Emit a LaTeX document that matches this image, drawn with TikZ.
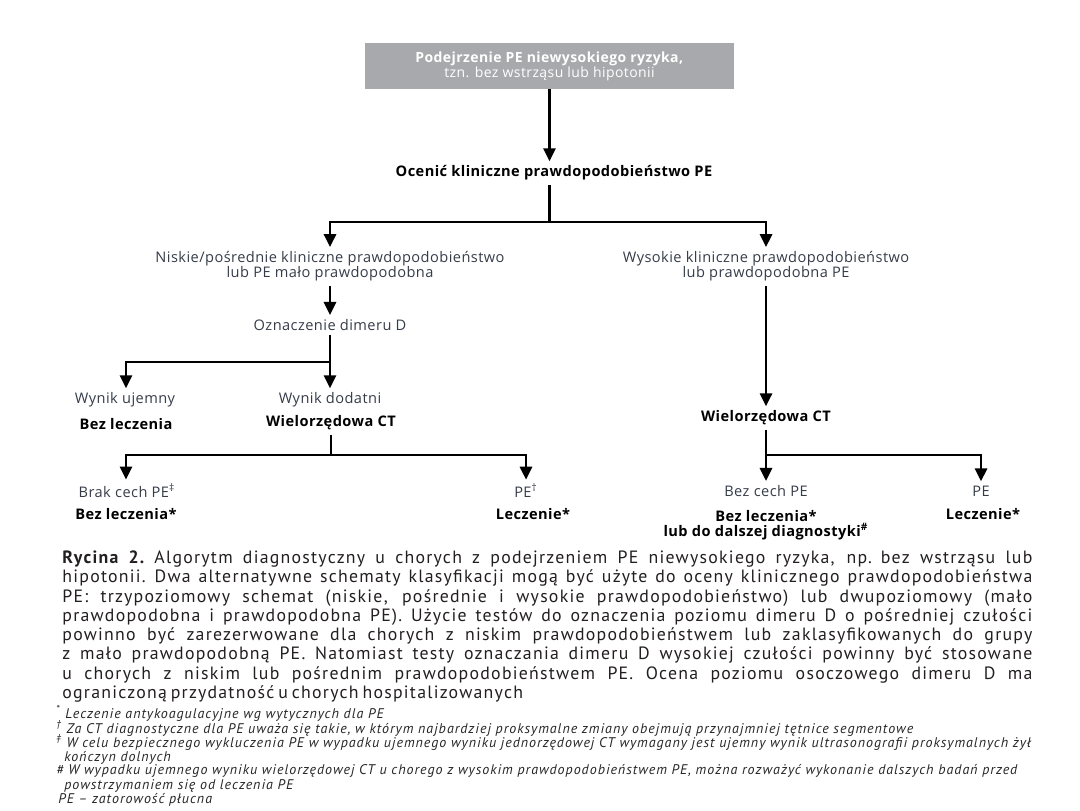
\documentclass[tikz,border=0pt]{standalone}
\usepackage{fontspec}
\setmainfont{Open Sans}[LetterSpace=3]
\newfontfamily\capfont{PT Sans}[LetterSpace=7]
\newfontfamily\notefont{PT Sans}[LetterSpace=7]
\usetikzlibrary{positioning,arrows.meta,calc}
\definecolor{boxgray}{HTML}{A8A9AD}
\definecolor{txtgray}{HTML}{353C48}
\definecolor{capblack}{HTML}{231F20}
\newcommand{\capline}[1]{\makebox[485pt][s]{#1}\\}
\newcommand{\capspace}{\spaceskip=2pt plus 4pt minus 0.6pt\relax}

\begin{document}
\begin{tikzpicture}[x=0.5pt, y=-0.5pt,
  lbl/.style={align=center, font=\fontsize{7.3}{7.6}\selectfont, text=txtgray, inner sep=2pt},
  blbl/.style={lbl, font=\fontsize{7.3}{7.6}\selectfont\bfseries, text=black},
  topbox/.style={fill=boxgray, text=white, align=center, font=\fontsize{7}{7.5}\selectfont, minimum width=184.5pt, minimum height=23pt, inner sep=0pt},
  caption/.style={anchor=west, align=left, text width=485pt, inner sep=0pt, text=capblack, font=\capfont\fontsize{8.9}{9.65}\selectfont},
  note/.style={anchor=west, align=left, inner sep=0pt, text=black!85, font=\notefont\itshape\fontsize{7}{7.2}\selectfont},
  arr/.style={-{Triangle[length=6.5pt,width=6pt]}, line width=1.4pt},
  ln/.style={line width=1.4pt}
]
\useasboundingbox (0,0) rectangle (1080,810);

% diagram
\node[topbox] (start) at (549.5,66) {\textbf{Podejrzenie PE niewysokiego ryzyka,}\\tzn. bez wstrząsu lub hipotonii};
\node[blbl] (ocen) at (554,173) {Ocenić kliniczne prawdopodobieństwo PE};
\node[lbl] (niskie) at (330,266.5) {Niskie/pośrednie kliniczne prawdopodobieństwo\\lub PE mało prawdopodobna};
\node[lbl] (wysokie) at (766,266.5) {Wysokie kliniczne prawdopodobieństwo\\lub prawdopodobna PE};
\node[lbl] (dimer) at (330,325) {Oznaczenie dimeru D};
\node[lbl] (ujemny) at (125,400) {Wynik ujemny};
\node[blbl] (bez1) at (126,424) {Bez leczenia};
\node[lbl] (dodatni) at (330,400) {Wynik dodatni};
\node[blbl] (ct1) at (331,423) {Wielorzędowa CT};
\node[blbl] (ct2) at (766,418) {Wielorzędowa CT};
\node[lbl] (brak) at (127,491) {Brak cech PE\textsuperscript{‡}};
\node[blbl] (bez2) at (126,514) {Bez leczenia*};
\node[lbl] (pe1) at (526,491) {PE\textsuperscript{†}};
\node[blbl] (lecz1) at (533,514) {Leczenie*};
\node[lbl] (bezcech) at (766,491) {Bez cech PE};
\node[blbl] (bez3) at (766,525.5) {Bez leczenia*\\lub do dalszej diagnostyki\textsuperscript{\#}};
\node[lbl] (pe2) at (981,491) {PE};
\node[blbl] (lecz2) at (983,514) {Leczenie*};

\coordinate (b1) at (549.5,222);
\coordinate (b2) at (330,362);
\coordinate (b3) at (331,455);
\coordinate (b4) at (766,455);

\draw[arr] (start.south) -- (start.south |- ocen.north);
\draw[ln] (ocen.south -| b1) -- (b1);
\draw[arr] (b1) -| (niskie.north);
\draw[arr] (b1) -| (wysokie.north);
\draw[arr] (niskie) -- (dimer);
\draw[ln] (dimer) -- (b2);
\draw[arr] (b2) -| (ujemny.north -| bez2);
\draw[arr] (b2) -- (dodatni);
\draw[ln] (ct1.south -| b3) -- (b3);
\draw[arr] (b3) -| (brak.north -| bez2);
\draw[arr] (b3) -| (pe1.north);
\draw[arr] (wysokie) -- (ct2);
\draw[ln] (ct2) -- (b4);
\draw[arr] (b4) -- (bezcech);
\draw[arr] (b4) -| (pe2.north);

% caption and notes
\node[caption] (cap) at (62,626.5) {\capspace
\capline{\textbf{Rycina 2.} Algorytm diagnostyczny u chorych z podejrzeniem PE niewysokiego ryzyka, np. bez wstrząsu lub}
\capline{hipotonii. Dwa alternatywne schematy klasyfikacji mogą być użyte do oceny klinicznego prawdopodobieństwa}
\capline{PE: trzypoziomowy schemat (niskie, pośrednie i wysokie prawdopodobieństwo) lub dwupoziomowy (mało}
\capline{prawdopodobna i prawdopodobna PE). Użycie testów do oznaczenia poziomu dimeru D o pośredniej czułości}
\capline{powinno być zarezerwowane dla chorych z niskim prawdopodobieństwem lub zaklasyfikowanych do grupy}
\capline{z mało prawdopodobną PE. Natomiast testy oznaczania dimeru D wysokiej czułości powinny być stosowane}
\capline{u chorych z niskim lub pośrednim prawdopodobieństwem PE. Ocena poziomu osoczowego dimeru D ma}
ograniczoną przydatność u chorych hospitalizowanych};

\node[note] (n1) at (56,713) {\textsuperscript{*} Leczenie antykoagulacyjne wg wytycznych dla PE};
\node[note] (n2) at (56,728) {\textsuperscript{†} Za CT diagnostyczne dla PE uważa się takie, w którym najbardziej proksymalne zmiany obejmują przynajmniej tętnice segmentowe};
\node[note] (n3) at (56,749.5) {\textsuperscript{‡} W celu bezpiecznego wykluczenia PE w wypadku ujemnego wyniku jednorzędowej CT wymagany jest ujemny wynik ultrasonografii proksymalnych żył\\\hspace*{4pt}kończyn dolnych};
\node[note] (n4) at (56,778.5) {\# W wypadku ujemnego wyniku wielorzędowej CT u chorego z wysokim prawdopodobieństwem PE, można rozważyć wykonanie dalszych badań przed\\\hspace*{4pt}powstrzymaniem się od leczenia PE};
\node[note] (n5) at (58,800) {PE – zatorowość płucna};
\end{tikzpicture}
\end{document}
